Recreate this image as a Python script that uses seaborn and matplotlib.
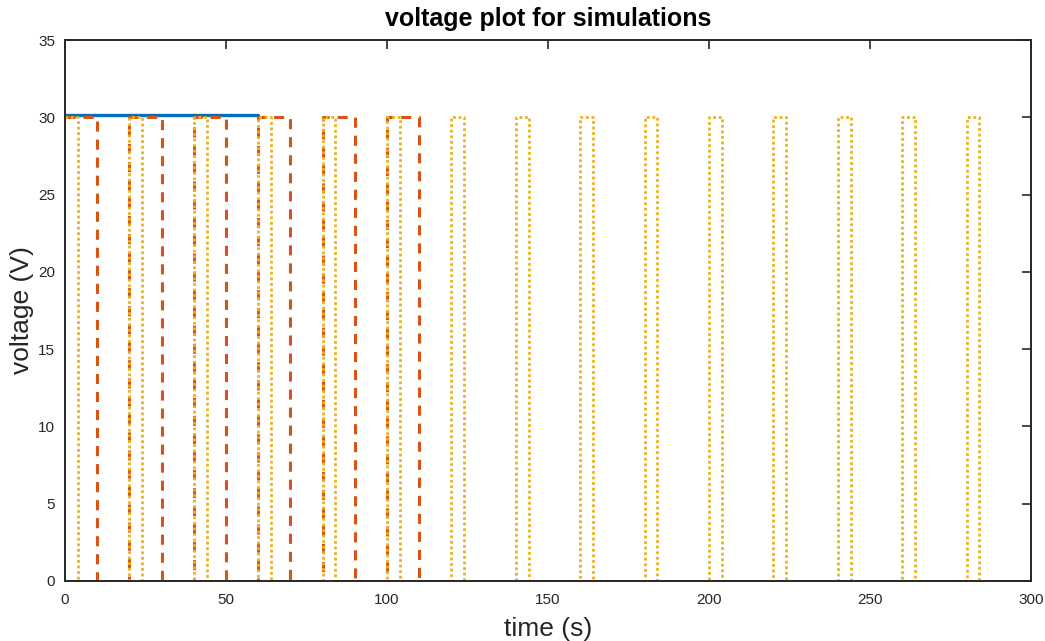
import matplotlib
matplotlib.use("Agg")
import matplotlib.pyplot as plt
import numpy as np
import pandas as pd
import seaborn as sns

# Simulation traces: switching instants (s) and the voltage held after each one (V)
blue_edges = [0, 60]
blue_levels = [30.15]

red_edges = [0, 10, 20, 30, 40, 50, 60, 70, 80, 90, 100, 110, 120]
red_levels = [30, 0, 30, 0, 30, 0, 30, 0, 30, 0, 30, 0]

yellow_edges = [0, 4, 20, 24, 40, 44, 60, 64, 80, 84, 100, 104, 120, 124,
                140, 144, 160, 164, 180, 184, 200, 204, 220, 224, 240, 244,
                260, 264, 280, 284, 300]
yellow_levels = [30, 0, 30, 0, 30, 0, 30, 0, 30, 0, 30, 0, 30, 0, 30, 0,
                 30, 0, 30, 0, 30, 0, 30, 0, 30, 0, 30, 0, 30, 0]

x_ticks = [0, 50, 100, 150, 200, 250, 300]
y_ticks = [0, 5, 10, 15, 20, 25, 30, 35]


def step_frame(edges, levels):
    """Corner points of a piecewise-constant signal."""
    t, v = [], []
    for i, lvl in enumerate(levels):
        t += [edges[i], edges[i + 1]]
        v += [lvl, lvl]
    return pd.DataFrame({"time": t, "voltage": v})


sns.set_theme(style="white")
plt.rcParams["font.family"] = ["Liberation Sans", "DejaVu Sans"]

fig = plt.figure(figsize=(10.45, 6.41), dpi=100)
ax = fig.add_axes([65 / 1045, 60 / 641, (1031 - 65) / 1045, (581 - 40) / 641])

ink = "#262626"

sns.lineplot(data=step_frame(blue_edges, blue_levels), x="time", y="voltage",
             sort=False, estimator=None, color="#0072BD", linewidth=2.4, ax=ax)
sns.lineplot(data=step_frame(red_edges, red_levels), x="time", y="voltage",
             sort=False, estimator=None, color="#D95319", linewidth=2.2,
             ax=ax).lines[-1].set_dashes([3.3, 2.6])
sns.lineplot(data=step_frame(yellow_edges, yellow_levels), x="time", y="voltage",
             sort=False, estimator=None, color="#EDB120", linewidth=2.0,
             ax=ax).lines[-1].set_dashes([1.0, 1.0])

ax.set_xlim(0, 300)
ax.set_ylim(0, 35)
ax.set_xticks(x_ticks)
ax.set_yticks(y_ticks)
ax.tick_params(direction="in", length=6.5, width=1.2, colors=ink,
               labelsize=11, top=True, right=True, pad=7)
ax.tick_params(axis="x", pad=9)
for side in ax.spines.values():
    side.set_visible(True)
    side.set_color(ink)
    side.set_linewidth(1.4)

ax.set_xlabel("time (s)", fontsize=19, color=ink, labelpad=7)
ax.set_ylabel("voltage (V)", fontsize=19, color=ink, labelpad=3)
ax.set_title("voltage plot for simulations", fontsize=18, fontweight="bold",
             color="black", pad=10)

fig.savefig("out.png", dpi=100)
